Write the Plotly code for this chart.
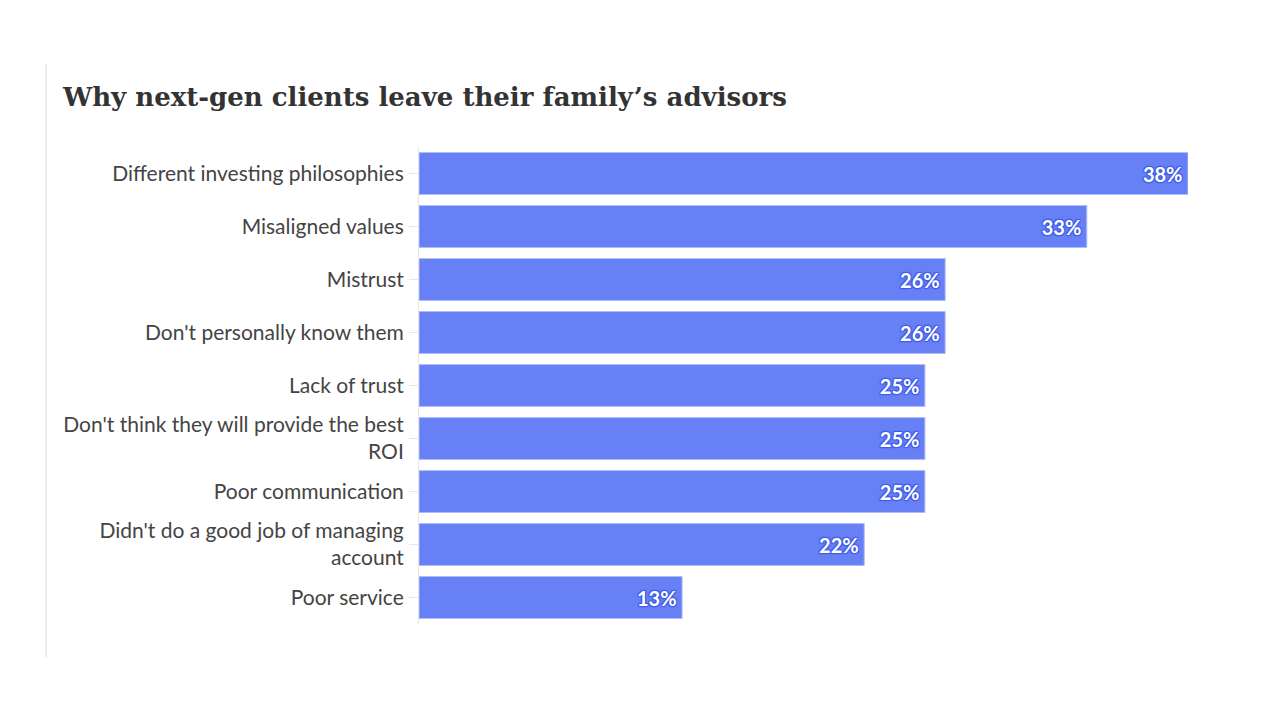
import plotly.graph_objects as go

# survey answers, top to bottom as shown
reasons = [
    "Different investing philosophies",
    "Misaligned values",
    "Mistrust",
    "Don't personally know them",
    "Lack of trust",
    "Don't think they will provide the best<br>ROI",
    "Poor communication",
    "Didn't do a good job of managing<br>account",
    "Poor service",
]
share_pct = [38, 33, 26, 26, 25, 25, 25, 22, 13]
value_labels = [f"{v}%\u2009" for v in share_pct]

BAR_BLUE = "#6780f5"
HALO = "#3d5be8"

fig = go.Figure()
fig.add_trace(go.Bar(
    x=share_pct,
    y=reasons,
    orientation="h",
    text=value_labels,
    textposition="inside",
    insidetextanchor="end",
    textangle=0,
    textfont=dict(family="Lato", size=20, color="white", weight="bold",
                  shadow=f"1px 1px 1px {HALO}, -1px -1px 1px {HALO}, 1px -1px 1px {HALO}, -1px 1px 1px {HALO}"),
    marker=dict(color=BAR_BLUE, line=dict(color="#aebcfb", width=1)),
    hoverinfo="skip",
))

fig.update_layout(
    width=1280, height=720,
    paper_bgcolor="white", plot_bgcolor="white",
    margin=dict(l=411, r=100, t=139, b=104),
    bargap=0.21,
    showlegend=False,
    title=dict(
        text="<b>Why next-gen clients leave their family\u2019s advisors</b>",
        x=55 / 1280, xanchor="left", xref="container",
        y=1 - 89 / 720, yanchor="middle", yref="container",
        font=dict(family="DejaVu Serif", size=26, color="#333333"),
    ),
    font=dict(family="Lato", size=21, color="#444444"),
    xaxis=dict(range=[0, 38], visible=False, fixedrange=True),
    yaxis=dict(
        autorange="reversed",
        showline=True, linecolor="#e6e6e6", linewidth=1,
        ticks="outside", ticklen=9, tickcolor="#e6e6e6",
        ticklabelstandoff=1,
        showgrid=False,
        tickfont=dict(family="Lato", size=21, color="#444444"),
    ),
)

# thin grey rule on the left edge of the card
fig.add_shape(type="line", xref="paper", yref="paper",
              x0=-(419 - 46) / 769, x1=-(419 - 46) / 769,
              y0=(720 - 98 - 655) / 477, y1=(720 - 98 - 62) / 477,
              line=dict(color="#ececec", width=2))

fig.write_html("out.html")
